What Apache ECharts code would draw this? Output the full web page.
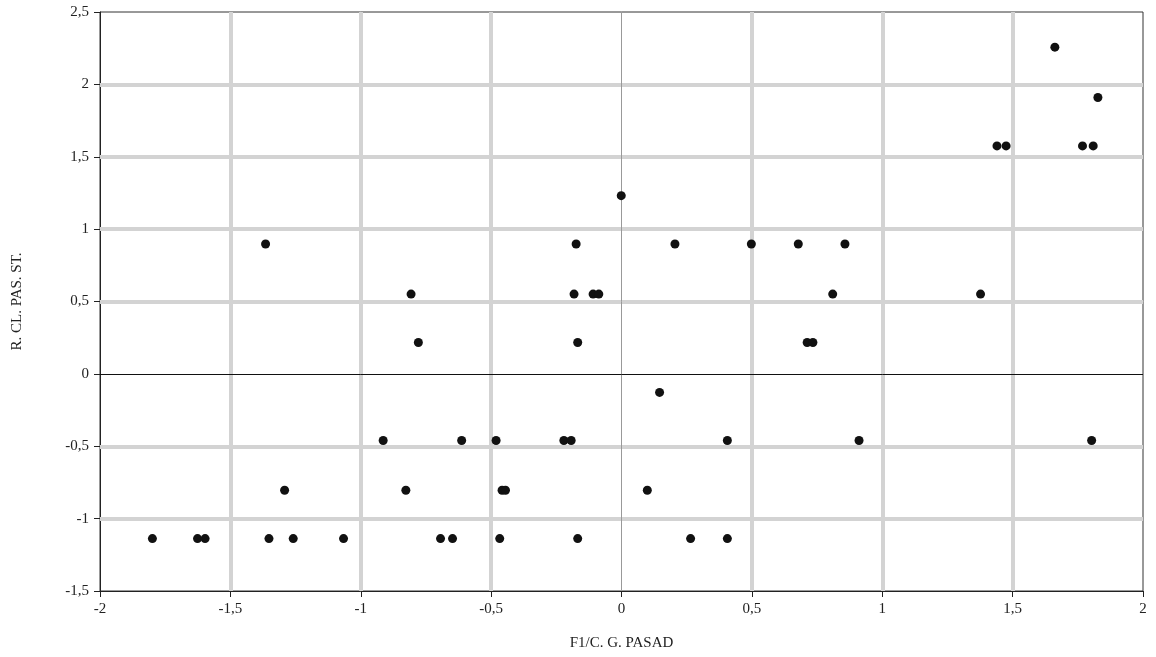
<!DOCTYPE html>
<html>
<head>
<meta charset="utf-8">
<script src="https://cdn.jsdelivr.net/npm/echarts@6/dist/echarts.min.js"></script>
<style>
html,body{margin:0;padding:0;background:#fff;}
#chart{width:1156px;height:657px;}
</style>
</head>
<body>
<div id="chart"></div>
<script>
// Data: [F1/C. G. PASAD, R. CL. PAS. ST.]
const xValues = [
  1.662, 1.827, 1.768, 1.809, 1.475, 1.44,
  -0.001,
  -1.365, -0.174, 0.205, 0.498, 0.678, 0.857,
  -0.807, -0.182, -0.109, -0.087, 0.810, 1.377,
  -0.779, -0.168, 0.712, 0.734,
  0.146,
  -0.914, -0.613, -0.481, -0.221, -0.193, 0.406, 0.911, 1.803,
  -1.292, -0.827, -0.458, -0.445, 0.099,
  -1.799, -1.626, -1.597, -1.352, -1.259, -1.066, -0.694, -0.648, -0.467, -0.168, 0.265, 0.406
];
const yValues = [
  2.257, 1.909, 1.575, 1.575, 1.575, 1.575,
  1.231,
  0.897, 0.897, 0.897, 0.897, 0.897, 0.897,
  0.551, 0.551, 0.551, 0.551, 0.551, 0.551,
  0.217, 0.217, 0.217, 0.217,
  -0.128,
  -0.46, -0.46, -0.46, -0.46, -0.46, -0.46, -0.46, -0.46,
  -0.804, -0.804, -0.804, -0.804, -0.804,
  -1.138, -1.138, -1.138, -1.138, -1.138, -1.138, -1.138, -1.138, -1.138, -1.138, -1.138, -1.138
];
const xTicks = [-2, -1.5, -1, -0.5, 0, 0.5, 1, 1.5, 2];
const yTicks = [-1.5, -1, -0.5, 0, 0.5, 1, 1.5, 2, 2.5];
const xTitle = 'F1/C. G. PASAD';
const yTitle = 'R. CL. PAS. ST.';

const points = xValues.map((x, i) => [x, yValues[i]]);
const fmt = v => String(v).replace('.', ',');
const font = '"Liberation Serif", "DejaVu Serif", serif';
const gridColor = '#d3d3d3';

const innerX = xTicks.slice(1, -1).filter(v => v !== 0);
const innerY = yTicks.slice(1, -1).filter(v => v !== 0);

const gridLines = [];
innerX.forEach(v => gridLines.push({ xAxis: v }));
innerY.forEach(v => gridLines.push({ yAxis: v }));

const chart = echarts.init(document.getElementById('chart'), null, { renderer: 'canvas' });
chart.setOption({
  animation: false,
  backgroundColor: '#fff',
  textStyle: { fontFamily: font },
  grid: {
    left: 100, right: 13, top: 12, bottom: 66,
    show: true, borderColor: '#333', borderWidth: 1, backgroundColor: 'transparent'
  },
  xAxis: {
    type: 'value',
    min: xTicks[0], max: xTicks[xTicks.length - 1], interval: 0.5,
    name: xTitle, nameLocation: 'middle', nameGap: 45,
    nameTextStyle: { fontFamily: font, fontSize: 15, color: '#222' },
    axisLine: { show: true, onZero: false, lineStyle: { color: '#222', width: 1 } },
    axisTick: { show: true, inside: false, length: 6, lineStyle: { color: '#222' } },
    axisLabel: { fontFamily: font, fontSize: 15, color: '#222', margin: 11, formatter: fmt },
    splitLine: { show: false }
  },
  yAxis: {
    type: 'value',
    min: yTicks[0], max: yTicks[yTicks.length - 1], interval: 0.5,
    name: yTitle, nameLocation: 'middle', nameGap: 75, nameRotate: 90,
    nameTextStyle: { fontFamily: font, fontSize: 15, color: '#222' },
    axisLine: { show: true, onZero: false, lineStyle: { color: '#222', width: 1 } },
    axisTick: { show: true, inside: false, length: 6, lineStyle: { color: '#222' } },
    axisLabel: { fontFamily: font, fontSize: 15, color: '#222', margin: 11, formatter: fmt },
    splitLine: { show: false }
  },
  series: [
    {
      type: 'scatter', data: [], z: 1, silent: true,
      markLine: {
        silent: true, symbol: 'none', label: { show: false },
        lineStyle: { color: gridColor, width: 4, type: 'solid' },
        emphasis: { disabled: true },
        data: gridLines
      }
    },
    {
      type: 'scatter', data: [], z: 2, silent: true,
      markLine: {
        silent: true, symbol: 'none', label: { show: false },
        emphasis: { disabled: true },
        data: [
          { xAxis: 0, lineStyle: { color: '#999', width: 1, type: 'solid' } },
          { yAxis: 0, lineStyle: { color: '#111', width: 1, type: 'solid' } }
        ]
      }
    },
    {
      type: 'scatter', z: 5,
      data: points,
      symbol: 'circle', symbolSize: 9,
      itemStyle: { color: '#111', opacity: 1 }
    }
  ]
});
</script>
</body>
</html>
